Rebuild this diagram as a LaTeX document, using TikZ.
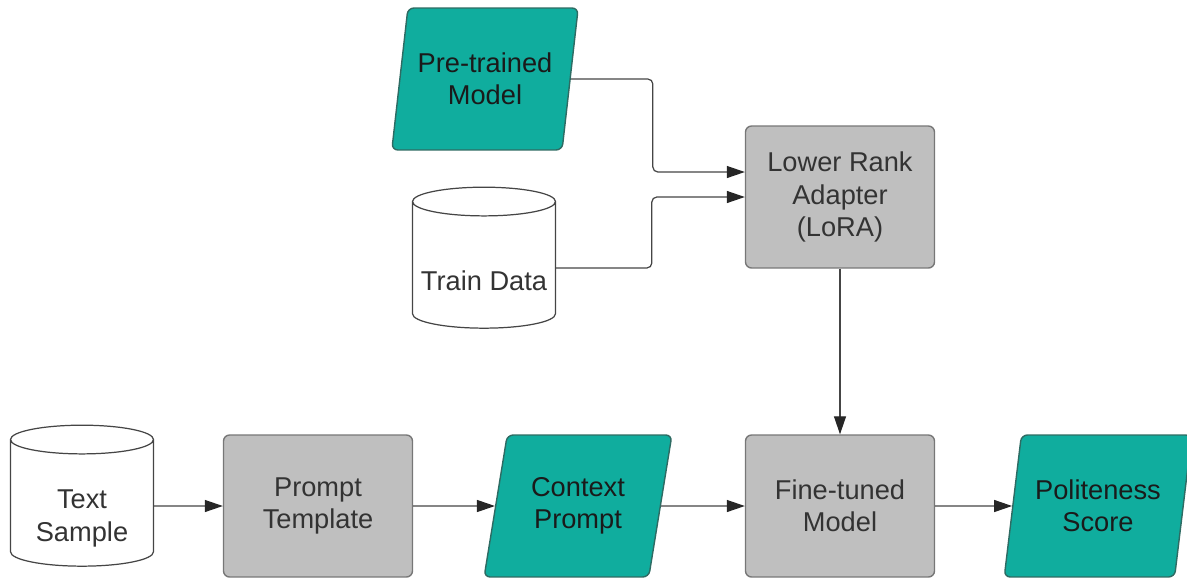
\documentclass[tikz,border=0pt]{standalone}
\usepackage{fontspec}
\setmainfont{Liberation Sans}
\usetikzlibrary{shapes.geometric, arrows.meta}
\definecolor{tealfill}{HTML}{10AD9E}
\definecolor{tealline}{HTML}{2E6B63}
\definecolor{grayfill}{HTML}{BFBFBF}
\definecolor{grayline}{HTML}{777777}
\definecolor{lineclr}{HTML}{454545}
\definecolor{textdark}{HTML}{1A1A1A}
\definecolor{textgray}{HTML}{333333}
\tikzset{
  data/.style={
    trapezium, trapezium left angle=75, trapezium right angle=105,
    trapezium stretches=true,
    minimum width=3.76cm, minimum height=2.84cm, inner sep=0pt,
    draw=tealline, fill=tealfill, rounded corners=0.12cm,
    line width=0.8pt, align=center, text=textdark,
  },
  process/.style={
    rectangle, minimum width=3.78cm, minimum height=2.84cm,
    draw=grayline, fill=grayfill, rounded corners=0.12cm,
    line width=0.8pt, align=center, text=textgray,
  },
  store/.style={
    cylinder, shape border rotate=90, aspect=0.21,
    text width=2.5cm, text height=0.4cm, text depth=0.1cm,
    minimum width=2.86cm, minimum height=2.82cm,
    draw=lineclr, fill=white, line width=0.7pt,
    label={[storetext]center:#1},
  },
  storetext/.style={align=center, text=textgray, yshift=-0.25cm},
  conn/.style={
    draw=lineclr, line width=0.7pt, rounded corners=0.1cm,
    -{Triangle[length=0.36cm, width=0.24cm, color=black!85]},
  },
}

\begin{document}
\begin{tikzpicture}[x=0.02cm, y=-0.02cm,
  font=\fontsize{15.5}{18.5}\selectfont]
\useasboundingbox (0,0) rectangle (1187,579);
% top row
\node[data] (pre) at (485,79) {Pre-trained\\Model};
\node[store={Train Data}] (train) at (484,268) {};
\node[process] (lora) at (840,197) {Lower Rank\\Adapter\\(LoRA)};
% bottom row
\node[store={Text\\Sample}] (text) at (82,506) {};
\node[process] (tmpl) at (318,506) {Prompt\\Template};
\node[data] (ctx) at (578,506) {Context\\Prompt};
\node[process] (tuned) at (840,506) {Fine-tuned\\Model};
\node[data] (score) at (1098,506) {Politeness\\Score};

\coordinate (lora-in) at ([yshift=0.5cm]lora.west);
\draw[conn] (pre.east) -| ([xshift=-1.84cm]lora-in) -- (lora-in);
\draw[conn] (train.east) -| ([xshift=-1.86cm]lora.west) -- (lora.west);
\draw[conn] (lora) -- (tuned);
\draw[conn] (text) -- (tmpl);
\draw[conn] (tmpl) -- (ctx);
\draw[conn] (ctx) -- (tuned);
\draw[conn] (tuned) -- (score);
\end{tikzpicture}
\end{document}
